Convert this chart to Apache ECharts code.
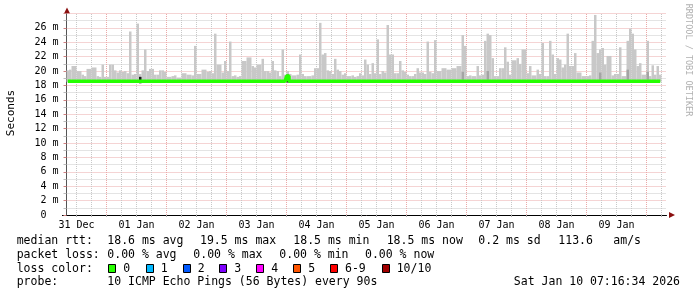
<!DOCTYPE html>
<html><head><meta charset="utf-8">
<script src="https://cdn.jsdelivr.net/npm/echarts@6/dist/echarts.min.js"></script>
<style>html,body{margin:0;padding:0;background:#fff}#c{width:697px;height:297px}</style>
</head><body><div id="c"></div>
<script>
// ---- data (hours since left edge; one smoke column per hour) ----
const dayLabels = ['31 Dec','01 Jan','02 Jan','03 Jan','04 Jan','05 Jan','06 Jan','07 Jan','08 Jan','09 Jan'];
const labelHours = [4, 28, 52, 76, 100, 124, 148, 172, 196, 220];   // noon of each day
const midnightHours = [16, 40, 64, 88, 112, 136, 160, 184, 208, 232];
const sixHourHours = [4,10,16,22,28,34,40,46,52,58,64,70,76,82,88,94,100,106,112,118,124,130,136,142,148,154,
  160,166,172,178,184,190,196,202,208,214,220,226,232,238];
const smokeMin = 18.5;
const smokeTop = [
  20.1,20.2,20.7,20.7,20.0,20.0,19.5,19.3,20.3,20.3,20.5,20.5,19.3,19.2,20.9,19.2,19.2,20.9,20.9,20.1,19.8,20.1,19.9,20.0,
  19.7,25.5,19.5,19.6,26.6,19.6,20.1,23.0,20.0,20.3,20.3,19.5,19.5,20.1,20.1,19.9,19.2,19.2,19.3,19.4,19.1,19.1,19.7,19.7,
  19.5,19.5,19.4,23.5,19.6,19.6,20.2,20.2,19.9,20.0,19.7,25.2,20.9,20.9,19.8,21.4,20.0,24.1,19.3,19.4,19.2,19.3,21.4,21.4,
  21.9,21.9,20.7,20.5,20.9,20.9,21.7,20.0,20.0,19.8,21.4,20.1,20.0,19.3,23.0,19.5,20.0,19.6,19.4,19.4,19.5,22.3,19.6,19.3,
  19.3,19.3,19.4,20.4,20.4,26.7,22.3,22.5,20.1,20.0,19.6,21.7,20.2,20.0,19.5,19.7,19.3,19.3,19.4,19.2,19.3,19.7,19.4,21.6,
  20.9,19.6,21.1,19.7,24.4,19.6,20.0,19.8,26.4,22.3,22.3,19.7,19.7,21.4,20.1,19.9,19.5,19.3,19.3,19.6,20.4,19.8,19.8,19.6,
  24.1,19.9,19.7,24.3,20.0,20.0,20.4,20.4,20.2,20.2,20.4,20.4,20.7,20.7,25.0,23.5,19.3,19.4,19.3,19.3,20.7,19.4,19.5,24.2,
  25.2,25.0,21.8,19.3,19.3,20.4,20.4,23.3,21.3,19.5,21.5,21.5,21.8,21.0,23.0,23.0,19.7,20.7,19.4,19.4,20.2,19.6,23.9,19.3,
  19.3,24.2,22.3,19.6,21.8,21.6,20.5,20.9,25.2,20.7,20.7,22.5,19.8,19.8,19.3,19.3,19.3,19.4,24.2,27.8,22.5,23.0,23.2,20.9,
  22.1,22.1,19.4,19.6,19.6,23.3,19.3,19.3,24.2,25.9,25.2,23.0,20.7,21.1,19.5,19.5,24.2,19.3,20.8,19.5,20.7,19.5
];
const medianRtt = [
  18.6,18.6,18.6,18.6,18.6,18.6,18.6,18.6,18.6,18.6,18.6,18.6,18.6,18.6,18.6,18.6,18.6,18.6,18.6,18.6,18.6,18.6,18.6,18.6,
  18.6,18.6,18.6,18.6,18.6,18.6,18.6,18.6,18.6,18.6,18.6,18.6,18.6,18.6,18.6,18.6,18.6,18.6,18.6,18.6,18.6,18.6,18.6,18.6,
  18.6,18.6,18.6,18.6,18.6,18.6,18.6,18.6,18.6,18.6,18.6,18.6,18.6,18.6,18.6,18.6,18.6,18.6,18.6,18.6,18.6,18.6,18.6,18.6,
  18.6,18.6,18.6,18.6,18.6,18.6,18.6,18.6,18.6,18.6,18.6,18.6,18.6,18.6,18.6,18.6,19.3,18.6,18.6,18.6,18.6,18.6,18.6,18.6,
  18.6,18.6,18.6,18.6,18.6,18.6,18.6,18.6,18.6,18.6,18.6,18.6,18.6,18.6,18.6,18.6,18.6,18.6,18.6,18.6,18.6,18.6,18.6,18.6,
  18.6,18.6,18.6,18.6,18.6,18.6,18.6,18.6,18.6,18.6,18.6,18.6,18.6,18.6,18.6,18.6,18.6,18.6,18.6,18.6,18.6,18.6,18.6,18.6,
  18.6,18.6,18.6,18.6,18.6,18.6,18.6,18.6,18.6,18.6,18.6,18.6,18.6,18.6,18.6,18.6,18.6,18.6,18.6,18.6,18.6,18.6,18.6,18.6,
  18.6,18.6,18.6,18.6,18.6,18.6,18.6,18.6,18.6,18.6,18.6,18.6,18.6,18.6,18.6,18.6,18.6,18.6,18.6,18.6,18.6,18.6,18.6,18.6,
  18.6,18.6,18.6,18.6,18.6,18.6,18.6,18.6,18.6,18.6,18.6,18.6,18.6,18.6,18.6,18.6,18.6,18.6,18.6,18.6,18.6,18.6,18.6,18.6,
  18.6,18.6,18.6,18.6,18.6,18.6,18.6,18.6,18.6,18.6,18.6,18.6,18.6,18.6,18.6,18.6,18.6,18.6,18.6,18.6,18.6,18.6
];
const darkHours = [29, 88];
const darkLow   = [18.3, 18.4];
const darkTop   = [19.2, 19.5];
const midHours  = [158, 168, 213, 224, 232];
const midLow    = [18.8, 18.8, 18.8, 18.8, 18.8];
const midTop    = [19.9, 20.0, 19.8, 20.2, 19.9];

const lossLabels = ['0','1','2','3','4','5','6-9','10/10'];
const lossColors = ['#26ff00','#00b8ff','#0059ff','#7e00ff','#ff00ff','#ff5500','#ff0000','#a10000'];

// ---- layout ----
const GL = 66.5, GT = 13.5, GW = 600, GB = 215;
const MONO = 'DejaVu Sans Mono';

function rectRender(color) {
  return function (params, api) {
    const x0 = api.value(0), lo = api.value(1), hi = api.value(2);
    const p0 = api.coord([x0, hi]);
    const p1 = api.coord([x0 + 1, lo]);
    return { type: 'rect', shape: { x: p0[0], y: p0[1], width: p1[0] - p0[0], height: p1[1] - p0[1] },
             style: { fill: color } };
  };
}

const chart = echarts.init(document.getElementById('c'), null, { renderer: 'canvas' });
const minorCol = '#c8c8c8', majorCol = '#eaa8a8';

const graphics = [];
function txt(x, y, s) {
  graphics.push({ type: 'text', x: x, y: y, silent: true,
    style: { text: s, x: 0, y: 0, font: '11.5px "' + MONO + '"', fill: '#000',
      textAlign: 'left', textVerticalAlign: 'middle', align: 'left', verticalAlign: 'middle' } });
}
graphics.push({ type: 'text', x: 11, y: 113, rotation: Math.PI / 2, silent: true,
  style: { text: 'Seconds', x: 0, y: 0, font: '11px "' + MONO + '"', fill: '#000',
    textAlign: 'center', textVerticalAlign: 'middle', align: 'center', verticalAlign: 'middle' } });
graphics.push({ type: 'text', x: 688, y: 60, rotation: -Math.PI / 2, silent: true,
  style: { text: 'RRDTOOL / TOBI OETIKER', x: 0, y: 0, font: '8.5px "' + MONO + '"', fill: '#b0b0b0',
    textAlign: 'center', textVerticalAlign: 'middle', align: 'center', verticalAlign: 'middle' } });
graphics.push({ type: 'polygon', silent: true, shape: { points: [[67 - 3, GT], [67 + 3, GT], [67, GT - 6]] }, style: { fill: '#8b1010' } });
graphics.push({ type: 'polygon', silent: true, shape: { points: [[669, GB - 3], [669, GB + 3], [675, GB]] }, style: { fill: '#8b1010' } });
graphics.push({ type: 'line', silent: true, shape: { x1: 62, y1: GB + 0.5, x2: 67, y2: GB + 0.5 }, style: { stroke: '#000', lineWidth: 1 } });

const L1 = 241.5, L2 = 255.5, L3 = 269, L4 = 282.5;
txt(16.7, L1, 'median rtt:');
txt(107.3, L1, '18.6 ms avg');
txt(200, L1, '19.5 ms max');
txt(293.3, L1, '18.5 ms min');
txt(386.7, L1, '18.5 ms now');
txt(478.3, L1, '0.2 ms sd');
txt(558.3, L1, '113.6');
txt(613.3, L1, 'am/s');
txt(16.7, L2, 'packet loss:');
txt(107.3, L2, '0.00 % avg');
txt(193.3, L2, '0.00 % max');
txt(279.3, L2, '0.00 % min');
txt(365, L2, '0.00 % now');
txt(16.7, L3, 'loss color:');
const boxX = [108.3, 145.7, 182.7, 219.3, 256.3, 293.3, 330, 381.7];
lossLabels.forEach((lab, k) => {
  graphics.push({ type: 'rect', silent: true, shape: { x: Math.round(boxX[k]) + 0.5, y: L3 - 4.5, width: 7, height: 8 },
    style: { fill: lossColors[k], stroke: '#000', lineWidth: 1 } });
  txt(boxX[k] + 15, L3, lab);
});
txt(16.7, L4, 'probe:');
txt(107.3, L4, '10 ICMP Echo Pings (56 Bytes) every 90s');
graphics.push({ type: 'text', x: 680, y: L4, silent: true,
  style: { text: 'Sat Jan 10 07:16:34 2026', x: 0, y: 0, font: '11.5px "' + MONO + '"', fill: '#000',
    textAlign: 'right', textVerticalAlign: 'middle', align: 'right', verticalAlign: 'middle' } });

function vLines(hours, color) {
  return { type: 'line', data: [], xAxisIndex: 0, yAxisIndex: 0, z: 1, silent: true,
    markLine: { silent: true, z: 1, symbol: ['none', 'none'], animation: false, label: { show: false },
      lineStyle: { color: color, type: [1, 1], width: 1 },
      emphasis: { disabled: true },
      data: hours.map(h => ({ xAxis: h })) } };
}

const option = {
  backgroundColor: '#fff',
  animation: false,
  grid: { left: GL, top: GT, width: GW, height: GB - GT, containLabel: false },
  xAxis: [{
    type: 'value', min: 0, max: 240, position: 'bottom',
    axisLine: { show: true, lineStyle: { color: '#000', width: 1 } },
    axisTick: { show: true, length: 2, customValues: sixHourHours, lineStyle: { color: '#aaa' } },
    axisLabel: { show: true, customValues: labelHours, margin: 5,
      formatter: (v) => dayLabels[labelHours.indexOf(v)] || '',
      fontFamily: MONO, fontSize: 10, color: '#000' },
    splitLine: { show: false }
  }],
  yAxis: [{
    type: 'value', min: 0, max: 28, interval: 2,
    axisLine: { show: true, lineStyle: { color: '#555', width: 1 } },
    axisTick: { show: true, length: 3, lineStyle: { color: '#d08080' } },
    minorTick: { show: true, splitNumber: 2, length: 3, lineStyle: { color: '#bbb' } },
    axisLabel: { margin: 8, fontFamily: MONO, fontSize: 10, color: '#000',
      formatter: (v) => v === 0 ? '0  ' : (v === 28 ? '' : v + ' m') },
    splitLine: { show: true, lineStyle: { color: majorCol, type: [1, 1], width: 1 } },
    minorSplitLine: { show: true, lineStyle: { color: minorCol, type: [1, 1], width: 1 } }
  }],
  series: [
    vLines(sixHourHours, minorCol),
    vLines(midnightHours, majorCol),
    { type: 'custom', name: 'smoke', xAxisIndex: 0, yAxisIndex: 0, z: 5,
      renderItem: rectRender('#c8c8c8'), encode: { x: 0, y: [1, 2] },
      data: smokeTop.map((v, i) => [i, smokeMin, v]) },
    { type: 'custom', name: 'smokeMid', xAxisIndex: 0, yAxisIndex: 0, z: 6,
      renderItem: rectRender('#a4a4a4'), encode: { x: 0, y: [1, 2] },
      data: midHours.map((h, k) => [h, midLow[k], midTop[k]]) },
    { type: 'custom', name: 'smokeDark', xAxisIndex: 0, yAxisIndex: 0, z: 6,
      renderItem: rectRender('#1a1a1a'), encode: { x: 0, y: [1, 2] },
      data: darkHours.map((h, k) => [h, darkLow[k], darkTop[k]]) },
    { type: 'line', name: 'median', xAxisIndex: 0, yAxisIndex: 0, z: 10, step: 'middle',
      symbol: 'none', lineStyle: { color: '#26ff00', width: 3.5 },
      data: medianRtt.map((v, i) => [i + 0.5, v]) }
  ],
  graphic: graphics
};
chart.setOption(option);
</script>
</body></html>
